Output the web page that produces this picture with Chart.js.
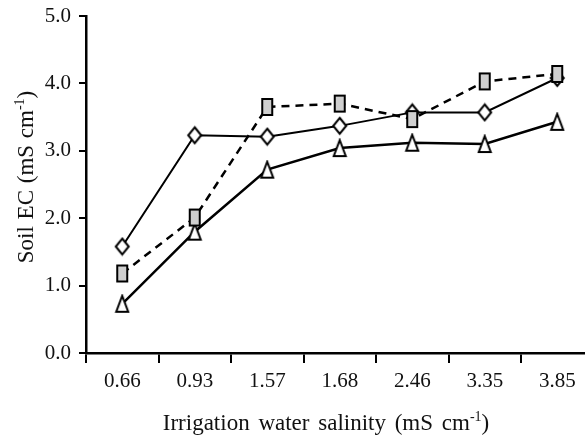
<!DOCTYPE html>
<html>
<head>
<meta charset="utf-8">
<script src="https://cdn.jsdelivr.net/npm/chart.js@4"></script>
<style>
  html, body { margin: 0; padding: 0; overflow: hidden; background: #fff; }
</style>
</head>
<body>
<canvas id="myChart" width="600" height="435"></canvas>
<script>
// values
const salinity = ['0.66', '0.93', '1.57', '1.68', '2.46', '3.35', '3.85'];
const squareEC = [1.18, 2.01, 3.65, 3.70, 3.47, 4.03, 4.14];
const diamondEC = [1.58, 3.23, 3.21, 3.37, 3.57, 3.57, 4.08];
const triangleEC = [0.73, 1.80, 2.72, 3.04, 3.12, 3.10, 3.43];
const yTicks = [0, 1, 2, 3, 4, 5];

const xTitle = ['Irrigation water salinity (mS cm', '-1', ')'];
const yTitle = ['Soil EC (mS cm', '-1', ')'];

const FONT = '"Liberation Serif", "Times New Roman", serif';

function marker(shape, w, h, fill) {
  const c = document.createElement('canvas');
  c.width = w + 4;
  c.height = h + 4;
  const g = c.getContext('2d');
  g.lineWidth = 2;
  g.strokeStyle = '#000';
  g.fillStyle = fill;
  g.beginPath();
  if (shape === 'diamond') {
    g.moveTo(2 + w / 2, 2);
    g.lineTo(2 + w, 2 + h / 2);
    g.lineTo(2 + w / 2, 2 + h);
    g.lineTo(2, 2 + h / 2);
  } else if (shape === 'triangle') {
    g.moveTo(2 + w / 2, 2);
    g.lineTo(2 + w, 2 + h);
    g.lineTo(2, 2 + h);
  } else {
    g.rect(2, 2, w, h);
  }
  g.closePath();
  g.fill();
  g.stroke();
  return c;
}

function drawSup(ctx, parts, x, y, spacing) {
  const big = '23px ' + FONT;
  const small = '14px ' + FONT;
  ctx.wordSpacing = spacing + 'px';
  ctx.font = big;
  const w0 = ctx.measureText(parts[0]).width;
  const w2 = ctx.measureText(parts[2]).width;
  ctx.font = small;
  const w1 = ctx.measureText(parts[1]).width;
  let sx = x - (w0 + w1 + w2) / 2;
  ctx.textBaseline = 'alphabetic';
  ctx.textAlign = 'left';
  ctx.fillStyle = '#111';
  ctx.font = big;
  ctx.fillText(parts[0], sx, y);
  sx += w0;
  ctx.font = small;
  ctx.fillText(parts[1], sx, y - 9);
  sx += w1;
  ctx.font = big;
  ctx.fillText(parts[2], sx, y);
}

const titles = {
  id: 'titles',
  afterDraw(chart) {
    const ctx = chart.ctx;
    ctx.save();
    drawSup(ctx, xTitle, 326, 430, 3);
    ctx.translate(33, 177);
    ctx.rotate(-Math.PI / 2);
    drawSup(ctx, yTitle, 0, 0, 1);
    ctx.restore();
  }
};

const ctx = document.getElementById('myChart');

new Chart(ctx, {
  type: 'line',
  data: {
    labels: salinity,
    datasets: [{
      data: squareEC,
      borderColor: '#000',
      borderWidth: 2.5,
      borderDash: [8, 6],
      pointStyle: marker('rect', 10, 16, '#cfcfcf'),
      tension: 0
    }, {
      data: diamondEC,
      borderColor: '#000',
      borderWidth: 2,
      pointStyle: marker('diamond', 13, 16, '#fff'),
      tension: 0
    }, {
      data: triangleEC,
      borderColor: '#000',
      borderWidth: 2.5,
      pointStyle: marker('triangle', 12, 16, '#fff'),
      tension: 0
    }]
  },
  options: {
    responsive: false,
    animation: false,
    layout: { padding: { top: 16, right: 1, left: 0, bottom: 0 } },
    plugins: {
      legend: { display: false },
      tooltip: { enabled: false }
    },
    scales: {
      x: {
        offset: true,
        grid: { offset: true, drawOnChartArea: false, color: '#000', lineWidth: 2, tickLength: 10 },
        border: { color: '#000', width: 2.5 },
        ticks: { color: '#111', padding: 6, font: { family: FONT, size: 21 }, maxRotation: 0 },
        afterFit(scale) { scale.height = 82; }
      },
      y: {
        min: 0,
        max: 5,
        afterBuildTicks(scale) { scale.ticks = yTicks.map(v => ({ value: v })); },
        grid: { drawOnChartArea: false, color: '#000', lineWidth: 2, tickLength: 7 },
        border: { color: '#000', width: 2.5 },
        ticks: {
          color: '#111',
          padding: 8,
          font: { family: FONT, size: 21 },
          callback: v => v.toFixed(1)
        },
        afterFit(scale) {
          scale.width = 86;
          scale.paddingTop = 0;
          scale.paddingBottom = 0;
        }
      }
    }
  },
  plugins: [titles]
});
</script>
</body>
</html>
